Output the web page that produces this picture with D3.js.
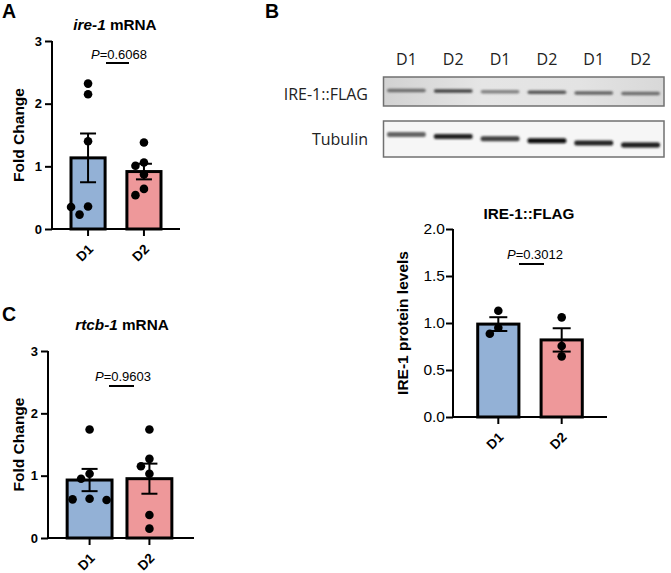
<!DOCTYPE html>
<html><head><meta charset="utf-8">
<script src="https://cdn.jsdelivr.net/npm/d3@7"></script>
<style>body{margin:0;background:#fff}svg{display:block}</style>
</head><body>
<svg id="c" width="671" height="573"></svg>
<script>
// ---------- data ----------
const groups = ["D1", "D2"];
// Panel A: ire-1 mRNA fold change (individual replicates)
const ireD1 = [2.32, 2.15, 1.40, 0.36, 0.35, 0.23];
const ireD2 = [1.38, 1.06, 1.01, 0.87, 0.64, 0.54];
const ireTicks = [0, 1, 2, 3];
const ireP = "0.6068";
// Panel C: rtcb-1 mRNA fold change
const rtcbD1 = [1.74, 1.03, 0.95, 0.63, 0.62, 0.61];
const rtcbD2 = [1.74, 1.27, 1.15, 1.03, 0.37, 0.15];
const rtcbTicks = [0, 1, 2, 3];
const rtcbP = "0.9603";
// Panel B: IRE-1::FLAG protein levels
const flagD1 = [1.13, 0.95, 0.885];
const flagD2 = [1.06, 0.755, 0.645];
const flagTicks = [0, 0.5, 1.0, 1.5, 2.0];
const flagP = "0.3012";
// Western blot lanes and relative band darkness
const lanes = ["D1", "D2", "D1", "D2", "D1", "D2"];
const flagBands = [0.5, 0.72, 0.38, 0.62, 0.55, 0.5];
const tubulinBands = [0.55, 0.9, 0.75, 1.0, 0.92, 0.95];

const colors = {D1: "#93b1d6", D2: "#ee989a"};
const FONT = "'Liberation Sans', Arial, Helvetica, sans-serif";

const svg = d3.select("#c").attr("font-family", FONT);

function sem(a) { return d3.deviation(a) / Math.sqrt(a.length); }

// simple beeswarm layout for dots
function swarm(vals, y, r, step) {
  const placed = [];
  const out = [];
  const order = vals.map((v, i) => i).sort((a, b) => vals[b] - vals[a]);
  order.forEach(i => {
    const py = y(vals[i]);
    const cands = [0, -step, step, -2 * step, 2 * step];
    let off = 0;
    for (const c of cands) {
      if (placed.every(p => Math.hypot(p.x - c, p.y - py) >= 2 * r + 0.6)) { off = c; break; }
    }
    placed.push({x: off, y: py});
    out.push({v: vals[i], dx: off});
  });
  return out;
}

function barPanel(cfg) {
  const g = svg.append("g");
  const y = d3.scaleLinear().domain(cfg.domain).range([cfg.y0, cfg.y1]);
  const x = d3.scaleBand().domain(groups).range([cfg.xr[0], cfg.xr[1]])
    .paddingInner(cfg.pi).paddingOuter(cfg.po);
  const series = [cfg.d1, cfg.d2];

  // bars
  groups.forEach((k, i) => {
    const m = d3.mean(series[i]);
    g.append("rect")
      .attr("x", x(k)).attr("width", x.bandwidth())
      .attr("y", y(m)).attr("height", y(cfg.domain[0]) - y(m))
      .attr("fill", colors[k]).attr("stroke", "#000").attr("stroke-width", 3);
  });
  // error bars
  groups.forEach((k, i) => {
    const m = d3.mean(series[i]), s = sem(series[i]);
    const cx = x(k) + x.bandwidth() / 2;
    const hw = cfg.cap;
    g.append("line").attr("x1", cx).attr("x2", cx).attr("y1", y(m - s)).attr("y2", y(m + s))
      .attr("stroke", "#000").attr("stroke-width", 2);
    [m - s, m + s].forEach(v => g.append("line")
      .attr("x1", cx - hw).attr("x2", cx + hw).attr("y1", y(v)).attr("y2", y(v))
      .attr("stroke", "#000").attr("stroke-width", 2));
  });
  // dots
  groups.forEach((k, i) => {
    const cx = x(k) + x.bandwidth() / 2;
    swarm(series[i], y, 4.2, 8.5).forEach(p => g.append("circle")
      .attr("cx", cx + p.dx).attr("cy", y(p.v)).attr("r", 4.3).attr("fill", "#000"));
  });

  // y axis
  const ya = g.append("g").attr("transform", `translate(${cfg.xr[0]},0)`)
    .call(d3.axisLeft(y).tickValues(cfg.ticks).tickFormat(cfg.fmt).tickSize(7).tickSizeOuter(0).tickPadding(cfg.tpad));
  ya.select(".domain").attr("stroke-width", 2).attr("d", `M0,${cfg.y0 + 1}V${cfg.y1}`);
  ya.selectAll(".tick line").attr("stroke-width", 2);
  ya.selectAll(".tick text").attr("font-size", cfg.tickFs).attr("font-weight", cfg.tickWeight)
    .attr("fill", "#000").attr("font-family", FONT);

  // x axis
  const xa = g.append("g").attr("transform", `translate(0,${cfg.y0})`)
    .call(d3.axisBottom(x).tickSize(7).tickSizeOuter(0));
  xa.select(".domain").attr("stroke-width", 2).attr("d", `M${cfg.xr[0] - 1},0H${cfg.xEnd}`);
  xa.selectAll(".tick line").attr("stroke-width", 2);
  xa.selectAll(".tick text").attr("font-size", 13.5).attr("font-weight", "bold").attr("fill", "#000")
    .attr("font-family", FONT)
    .attr("text-anchor", "end").attr("dy", null).attr("y", 0)
    .attr("transform", "translate(6,21) rotate(-45)");

  // y label
  g.append("text").attr("transform", `translate(${cfg.ylabX},${(cfg.y0 + cfg.y1) / 2}) rotate(-90)`)
    .attr("text-anchor", "middle").attr("font-size", 15.5).attr("font-weight", "bold").text(cfg.ylabel);

  // title
  const t = g.append("text").attr("x", cfg.titleX).attr("y", cfg.titleY).attr("text-anchor", "middle")
    .attr("font-size", 15.3).attr("font-weight", "bold");
  cfg.title.forEach(([s, it]) => t.append("tspan").attr("font-style", it ? "italic" : "normal").text(s));

  // p value
  const pt = g.append("text").attr("x", cfg.pX).attr("y", cfg.pY).attr("text-anchor", "middle").attr("font-size", 13);
  pt.append("tspan").attr("font-style", "italic").text("P");
  pt.append("tspan").text("=" + cfg.p);
  g.append("line").attr("x1", cfg.pLine[0]).attr("x2", cfg.pLine[1]).attr("y1", cfg.pLineY).attr("y2", cfg.pLineY)
    .attr("stroke", "#000").attr("stroke-width", 2);
}

const intFmt = d3.format("d");
const decFmt = d3.format(".1f");

barPanel({d1: ireD1, d2: ireD2, domain: [0, 3], ticks: ireTicks, fmt: intFmt, y0: 229, y1: 41,
  xr: [52, 180], xEnd: 180, pi: 0.39, po: 0.34, cap: 8, tpad: 3, tickFs: 13, tickWeight: "bold",
  ylabel: "Fold Change", ylabX: 24, title: [["ire-1", true], [" mRNA", false]], titleX: 115, titleY: 30,
  p: ireP, pX: 119, pY: 59, pLine: [106, 129], pLineY: 63});

barPanel({d1: rtcbD1, d2: rtcbD2, domain: [0, 3], ticks: rtcbTicks, fmt: intFmt, y0: 538, y1: 351,
  xr: [48, 191], xEnd: 194, pi: 0.25, po: 0.32, cap: 8, tpad: 3, tickFs: 13, tickWeight: "bold",
  ylabel: "Fold Change", ylabX: 24, title: [["rtcb-1", true], [" mRNA", false]], titleX: 122, titleY: 330,
  p: rtcbP, pX: 123, pY: 381, pLine: [109, 134], pLineY: 386});

barPanel({d1: flagD1, d2: flagD2, domain: [0, 2], ticks: flagTicks, fmt: decFmt, y0: 417, y1: 229,
  xr: [453, 607], xEnd: 607, pi: 0.35, po: 0.39, cap: 9, tpad: 1, tickFs: 15.5, tickWeight: "normal",
  ylabel: "IRE-1 protein levels", ylabX: 408, title: [["IRE-1::FLAG", false]], titleX: 529, titleY: 219,
  p: flagP, pX: 535, pY: 259, pLine: [519, 544], pLineY: 264});

// ---------- western blot ----------
const BF = "'Open Sans', 'Noto Sans', sans-serif";
const defs = svg.append("defs");
defs.append("filter").attr("id", "blur").attr("x", "-20%").attr("y", "-100%").attr("width", "140%").attr("height", "300%")
  .append("feGaussianBlur").attr("stdDeviation", 1.2);
const grad = defs.append("linearGradient").attr("id", "bg1");
grad.append("stop").attr("offset", "0%").attr("stop-color", "#d2d2d2");
grad.append("stop").attr("offset", "35%").attr("stop-color", "#e5e5e5");
grad.append("stop").attr("offset", "70%").attr("stop-color", "#e3e3e3");
grad.append("stop").attr("offset", "100%").attr("stop-color", "#d8d8d8");

const lx = d3.scaleBand().domain(d3.range(lanes.length)).range([383, 664]);
const blot = svg.append("g");
blot.selectAll("text.lane").data(lanes).join("text")
  .attr("x", (d, i) => lx(i) + lx.bandwidth() / 2).attr("y", 65).attr("text-anchor", "middle")
  .attr("font-family", BF).attr("font-size", 16).attr("fill", "#222").text(d => d);

const dark = d3.scaleLinear().domain([0, 1]).range(["#c8c8c8", "#111"]);
function drawBlot(yTop, h, fill, bands, bandY, slope, bh) {
  blot.append("rect").attr("x", 383.5).attr("y", yTop).attr("width", 280.5).attr("height", h)
    .attr("fill", fill).attr("stroke", "#707070").attr("stroke-width", 1.5);
  blot.selectAll(null).data(bands).join("rect")
    .attr("x", (d, i) => lx(i) + 4).attr("width", lx.bandwidth() - 8)
    .attr("y", (d, i) => bandY + i * slope - bh / 2).attr("height", bh).attr("rx", 2)
    .attr("fill", d => dark(d)).attr("filter", "url(#blur)");
}
drawBlot(77, 29, "url(#bg1)", flagBands, 90.5, 0.6, 3.5);
drawBlot(121, 36, "#f6f6f6", tubulinBands, 134.5, 2.1, 5);

blot.append("text").attr("x", 368).attr("y", 100).attr("text-anchor", "end").attr("font-family", BF)
  .attr("font-size", 16).attr("fill", "#222").text("IRE-1::FLAG");
blot.append("text").attr("x", 368).attr("y", 145).attr("text-anchor", "end").attr("font-family", BF)
  .attr("font-size", 16).attr("fill", "#222").text("Tubulin");

// ---------- panel letters ----------
[["A", 2, 18], ["B", 265, 18], ["C", 2, 321]].forEach(([s, x, y]) =>
  svg.append("text").attr("x", x).attr("y", y).attr("font-size", 19.5).attr("font-weight", "bold").text(s));
</script>
</body></html>
